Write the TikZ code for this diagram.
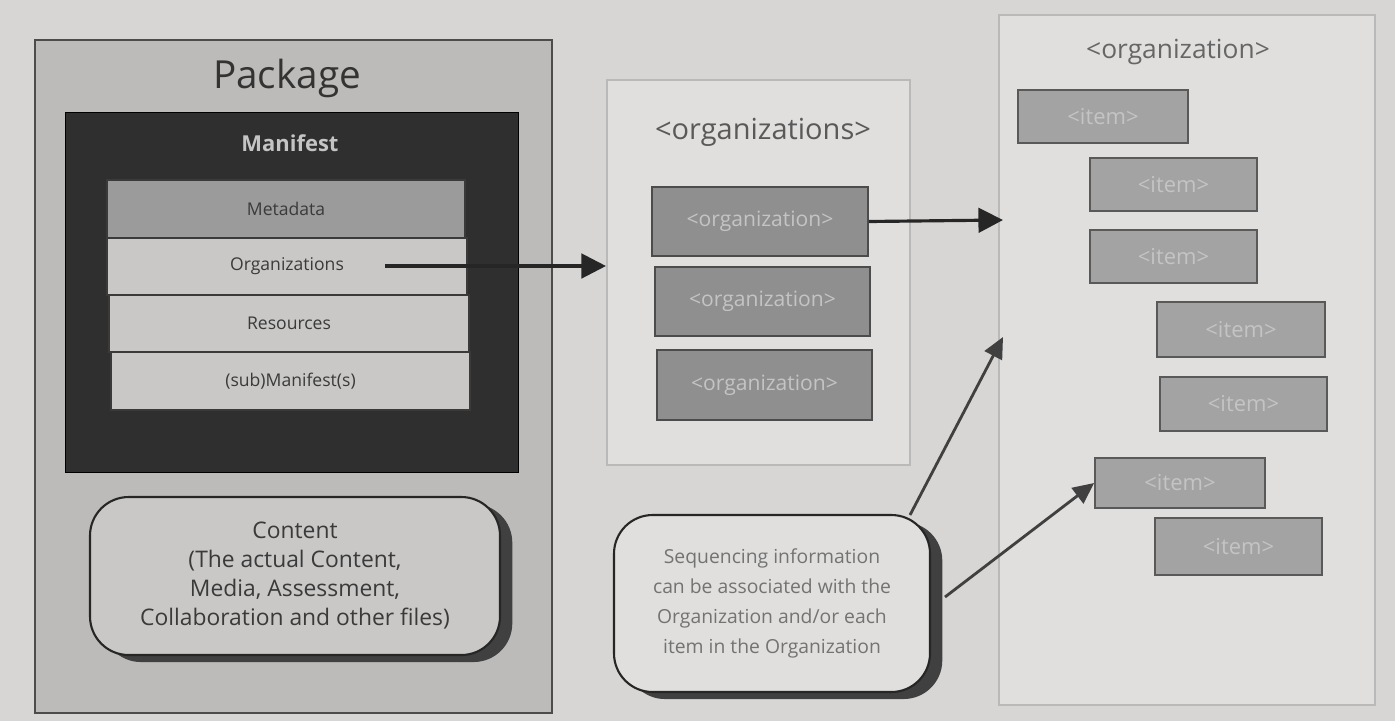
\documentclass[tikz,border=0pt]{standalone}
\usepackage{fontspec}
\setmainfont{Open Sans}
\usetikzlibrary{fit,arrows.meta,shadows}
\definecolor{paper}{HTML}{D8D6D4}
\definecolor{pkgfill}{HTML}{BCBBBA}
\definecolor{manfill}{HTML}{2F2F2F}
\definecolor{metafill}{HTML}{9B9B9B}
\definecolor{rowfill}{HTML}{C9C8C7}
\definecolor{panelfill}{HTML}{E0DFDE}
\definecolor{orgfill}{HTML}{8F8F8F}
\definecolor{itemfill}{HTML}{A3A3A3}
\definecolor{lighttext}{HTML}{C4C4C4}
\definecolor{darktext}{HTML}{3A3A3A}
\tikzset{
  box/.style={inner sep=0pt, draw=#1, line width=1pt},
  row/.style={box=darktext, fill=rowfill},
  rowtext/.style={text=darktext, font=\fontsize{10}{12}\selectfont, inner sep=0pt},
  orgbox/.style={box=gray!60!black, fill=orgfill},
  orgtext/.style={text=lighttext, font=\fontsize{12}{14}\selectfont, inner sep=0pt},
  itembox/.style={box=gray!70!black, fill=itemfill},
  itemtext/.style={text=lighttext, font=\fontsize{12.5}{14}\selectfont, inner sep=0pt},
  panel/.style={box=gray!55, fill=panelfill, line width=1.2pt},
  roundbox/.style={inner sep=0pt, draw=black!85, line width=1.2pt, rounded corners=22pt, fill=#1,
    general shadow={fill=black!75, shadow xshift=7pt, shadow yshift=-4pt}},
  bigarrow/.style={line width=1.8pt, draw=black!85, -{Triangle[length=14pt,width=14pt]}},
  thinarrow/.style={line width=1.6pt, draw=black!75, -{Triangle[length=12pt,width=11pt]}},
}
\begin{document}
\begin{tikzpicture}[x=0.02cm,y=-0.02cm]
\fill[paper] (0,0) rectangle (1395,721);
\useasboundingbox (0,0) rectangle (1395,721);
% Package
\node[fit={(35,40) (552,713)}, box=black!70, fill=pkgfill, line width=1.5pt] (pkg) {};
\node[font=\fontsize{22}{26}\selectfont, text=black!80] (pkgtitle) at (287,78) {Package};
\node[fit={(65,112) (518,472)}, inner sep=0pt, fill=manfill, draw=black] (man) {};
\node[font=\bfseries\fontsize{12.5}{15}\selectfont, text=lighttext] (mantitle) at (290,143) {Manifest};
\node[fit={(107,180) (465,238)}, row, fill=metafill] (meta) {};
\node[fit={(107,238) (467,295)}, row] (orgs) {};
\node[fit={(109,295) (469,352)}, row] (res) {};
\node[fit={(111,352) (470,410)}, row] (sub) {};
\node[rowtext] (metat) at (meta.center) {Metadata};
\node[rowtext] (orgst) at (orgs.center) {Organizations};
\node[rowtext] (rest) at (res.center) {Resources};
\node[rowtext] (subt) at (sub.center) {(sub)Manifest(s)};
\node[fit={(90,497) (500,655)}, roundbox=rowfill] (content) {};
\node[text=darktext, align=center, font=\fontsize{13}{16.5}\selectfont] (contentt) at (content.center)
  {Content\\(The actual Content,\\Media, Assessment,\\Collaboration and other files)};
% Organizations panel
\node[fit={(607,80) (910,465)}, panel] (orgpanel) {};
\node[font=\fontsize{16.5}{20}\selectfont, text=black!65] (orgpaneltitle) at (763,132) {<organizations>};
\node[fit={(652,187) (868,256)}, orgbox] (o1) {};
\node[fit={(655,267) (870,336)}, orgbox] (o2) {};
\node[fit={(657,350) (872,420)}, orgbox] (o3) {};
\node[orgtext] (o1t) at (o1.center) {<organization>};
\node[orgtext] (o2t) at (o2.center) {<organization>};
\node[orgtext] (o3t) at (o3.center) {<organization>};
% Organization panel
\node[fit={(999,15) (1375,705)}, panel] (itpanel) {};
\node[font=\fontsize{15}{18}\selectfont, text=black!60] (itpaneltitle) at (1178,52) {<organization>};
\node[fit={(1018,90) (1188,143)}, itembox] (i1) {};
\node[fit={(1090,158) (1257,211)}, itembox] (i2) {};
\node[fit={(1090,230) (1257,283)}, itembox] (i3) {};
\node[fit={(1157,302) (1325,357)}, itembox] (i4) {};
\node[fit={(1160,377) (1327,431)}, itembox] (i5) {};
\node[fit={(1095,458) (1265,508)}, itembox] (i6) {};
\node[fit={(1155,518) (1322,575)}, itembox] (i7) {};
\foreach \i in {1,...,7} { \node[itemtext] (i\i t) at (i\i.center) {<item>}; }
% Sequencing
\node[fit={(614,515) (930,692)}, roundbox=panelfill] (seq) {};
\node[text=black!55, align=center, font=\fontsize{11}{17}\selectfont] (seqt) at (seq.center)
  {Sequencing information\\can be associated with the\\Organization and/or each\\item in the Organization};
% arrows
\coordinate (a1s) at (385,266);
\coordinate (a2e) at (1003,220);
\coordinate (a3e) at (1003,337);
\coordinate (a3s) at (910,515);
\coordinate (a4s) at (945,597);
\draw[bigarrow] (a1s) -- (orgpanel.west |- a1s);
\draw[bigarrow] (o1.east) -- (a2e);
\draw[thinarrow] (a3s) -- (a3e);
\draw[thinarrow] (a4s) -- (i6.west);
\end{tikzpicture}
\end{document}
